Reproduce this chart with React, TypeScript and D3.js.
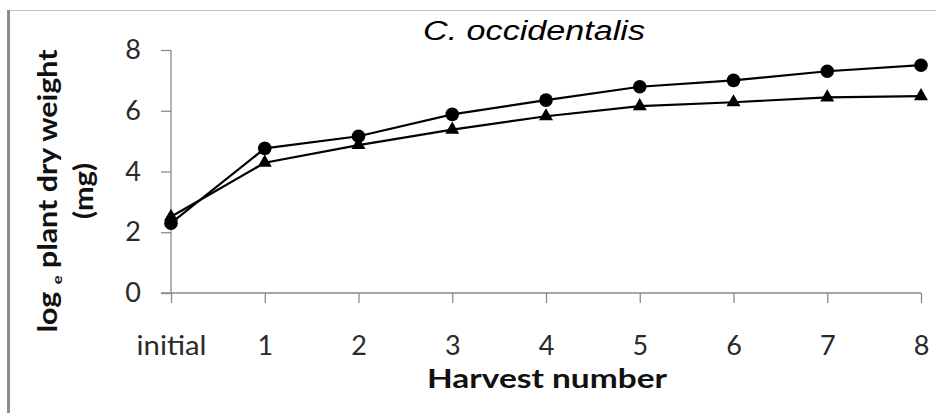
import { useRef, useEffect } from 'react'
import * as d3 from 'd3'

// harvest categories and the two series
const harvests = ['initial', '1', '2', '3', '4', '5', '6', '7', '8']
const circleSeries = [2.3, 4.76, 5.16, 5.88, 6.35, 6.79, 7.0, 7.3, 7.5]
const triangleSeries = [2.51, 4.29, 4.87, 5.38, 5.82, 6.15, 6.28, 6.44, 6.48]
const yTicks = [0, 2, 4, 6, 8]

const w = 936
const h = 413

function App() {
	const ref = useRef<SVGSVGElement>(null)

	useEffect(() => {
		const svg = d3.select(ref.current)
		svg.selectAll('*').remove()

		const axisColor = '#8a8a8a'
		const labelFont = 'Lato, "Open Sans", sans-serif'

		const xScale = d3.scalePoint().domain(harvests).range([171, 921])
		const yScale = d3.scaleLinear().domain([0, 8]).range([293, 50])

		// frame edges of the original figure
		svg.append('line')
			.attr('x1', 7).attr('x2', w).attr('y1', 10.5).attr('y2', 10.5)
			.attr('stroke', '#c4c4c4').attr('stroke-width', 1)
		svg.append('line')
			.attr('x1', 8.5).attr('x2', 8.5).attr('y1', 10).attr('y2', h)
			.attr('stroke', '#8c8c8c').attr('stroke-width', 3)

		// y axis
		svg.append('g')
			.attr('transform', 'translate(171,0)')
			.call(d3.axisLeft(yScale).tickValues(yTicks).tickSize(10).tickPadding(20).tickFormat(d3.format('d')))
			.call(g => g.selectAll('path, line').attr('stroke', axisColor).attr('stroke-width', 1.3))
			.call(g => g.select('.domain').attr('d', `M0,${yScale(8)}V${yScale(0)}`))
			.call(g => g.selectAll('text')
				.attr('font-family', labelFont)
				.attr('font-size', 27)
				.attr('fill', '#2a2a2a'))

		// x axis
		svg.append('g')
			.attr('transform', 'translate(0,293)')
			.call(d3.axisBottom(xScale).tickSize(10).tickPadding(33))
			.call(g => g.selectAll('path, line').attr('stroke', axisColor).attr('stroke-width', 1.3))
			.call(g => g.select('.domain').attr('d', `M161,0H${xScale('8')}`))
			.call(g => g.selectAll('text')
				.attr('font-family', labelFont)
				.attr('font-size', 27)
				.attr('fill', '#2a2a2a'))
			.call(g => g.selectAll('text').filter(d => d === 'initial')
				.attr('textLength', 70)
				.attr('lengthAdjust', 'spacingAndGlyphs'))

		const line = d3.line<number>()
			.x((d, i) => xScale(harvests[i]) as number)
			.y(d => yScale(d))

		svg.append('path')
			.datum(triangleSeries)
			.attr('d', line)
			.attr('fill', 'none')
			.attr('stroke', '#000')
			.attr('stroke-width', 2.2)

		svg.append('path')
			.datum(circleSeries)
			.attr('d', line)
			.attr('fill', 'none')
			.attr('stroke', '#000')
			.attr('stroke-width', 2.2)

		svg.selectAll('.tri')
			.data(triangleSeries)
			.enter().append('path')
			.attr('class', 'tri')
			.attr('d', d3.symbol(d3.symbolTriangle, 85))
			.attr('transform', (d, i) => `translate(${xScale(harvests[i])},${yScale(d)})`)
			.attr('fill', '#000')

		svg.selectAll('.dot')
			.data(circleSeries)
			.enter().append('circle')
			.attr('class', 'dot')
			.attr('cx', (d, i) => xScale(harvests[i]) as number)
			.attr('cy', d => yScale(d))
			.attr('r', 6.8)
			.attr('fill', '#000')

		// title
		svg.append('text')
			.attr('x', 534)
			.attr('y', 40)
			.attr('text-anchor', 'middle')
			.attr('font-family', '"Liberation Sans", Arial, sans-serif')
			.attr('font-style', 'italic')
			.attr('font-size', 27)
			.attr('textLength', 222)
			.attr('lengthAdjust', 'spacingAndGlyphs')
			.attr('fill', '#000')
			.text('C. occidentalis')

		// x title
		svg.append('text')
			.attr('x', 547)
			.attr('y', 388)
			.attr('text-anchor', 'middle')
			.attr('font-family', labelFont)
			.attr('font-weight', 700)
			.attr('font-size', 26)
			.attr('textLength', 240)
			.attr('lengthAdjust', 'spacingAndGlyphs')
			.attr('fill', '#111')
			.text('Harvest number')

		// y title, two lines, subscript e
		const yTitle = svg.append('text')
			.attr('transform', 'translate(57,191) rotate(-90)')
			.attr('text-anchor', 'middle')
			.attr('font-family', labelFont)
			.attr('font-weight', 700)
			.attr('font-size', 26)
			.attr('textLength', 283)
			.attr('lengthAdjust', 'spacingAndGlyphs')
			.attr('fill', '#111')
		yTitle.append('tspan').text('log ')
		yTitle.append('tspan').attr('font-size', 14).attr('dy', 5).text('e')
		yTitle.append('tspan').attr('dy', -5).text(' plant dry weight')

		svg.append('text')
			.attr('transform', 'translate(93,191) rotate(-90)')
			.attr('text-anchor', 'middle')
			.attr('font-family', labelFont)
			.attr('font-weight', 700)
			.attr('font-size', 26)
			.attr('textLength', 56)
			.attr('lengthAdjust', 'spacingAndGlyphs')
			.attr('fill', '#111')
			.text('(mg)')
	}, [])

	return (
		<svg ref={ref} width={w} height={h} style={{ position: 'absolute', left: 0, top: 0, background: '#fff' }} />
	)
}

export default App
